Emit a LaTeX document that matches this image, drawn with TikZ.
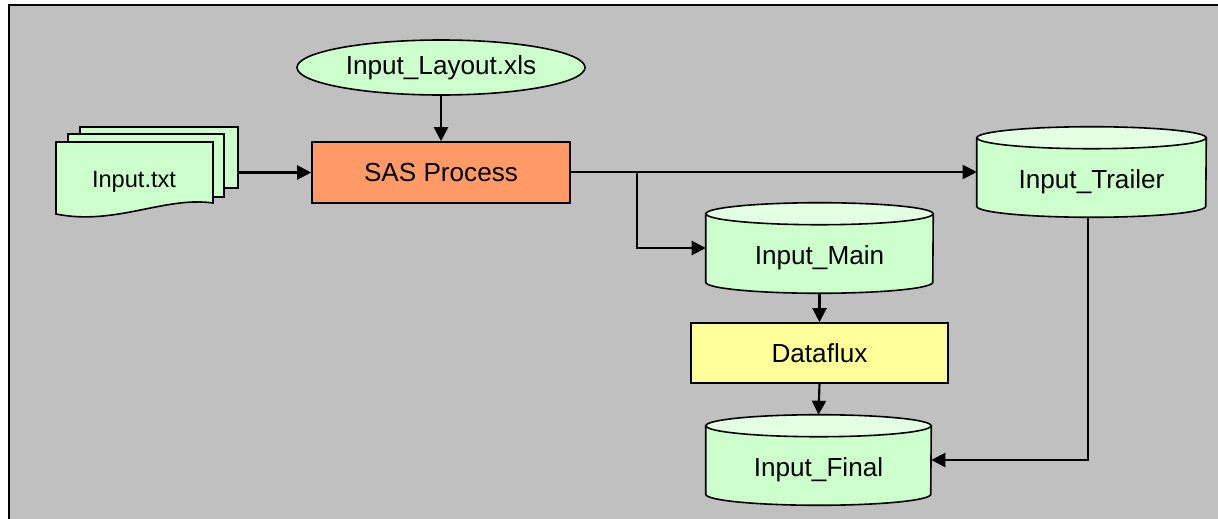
\documentclass[tikz,border=0pt]{standalone}
\usepackage{fontspec}
\setmainfont{Liberation Sans}
\usetikzlibrary{arrows.meta,shapes.geometric}
\definecolor{bggray}{HTML}{C0C0C0}
\definecolor{lgreen}{HTML}{CCFFCC}
\definecolor{lgreentop}{HTML}{E3FFE3}
\definecolor{sasorange}{HTML}{FF9966}
\definecolor{dfyellow}{HTML}{FFFF99}
\newcommand\drawcyl[2]{%
  \path[draw=black,line width=1.2pt,fill=lgreen]
    ([yshift=-8.25pt]#1.north west) -- ([yshift=8.25pt]#1.south west)
    arc[start angle=180,end angle=360,x radius=#2,y radius=8.25pt]
    -- ([yshift=-8.25pt]#1.north east) -- cycle;
  \path[draw=black,line width=1.2pt,fill=lgreentop]
    ([yshift=-8.25pt]#1.north) ellipse[x radius=#2,y radius=8.25pt];}
\tikzset{
  lbl/.style={font=\fontsize{19.6}{22}\selectfont,inner sep=0pt},
  boxnode/.style={draw=black,line width=1.2pt,inner sep=0pt,font=\fontsize{19.6}{22}\selectfont},
  cylbox/.style={inner sep=0pt,minimum height=67.5pt},
  docbox/.style={draw=black,line width=1.2pt,fill=lgreen,inner sep=0pt},
  conn/.style={line width=1.6pt,-{Triangle[length=10.5pt,width=10.5pt]}},
  plain/.style={line width=1.6pt}
}
\begin{document}
\begin{tikzpicture}[x=0.75pt,y=0.75pt]
\useasboundingbox (0,0) rectangle (1218,-518);
\clip (0,0) rectangle (1218,-518);
\fill[white] (0,0) rectangle (1218,-518);
\draw[line width=1.5pt,fill=bggray] (9,-5) rectangle (1240,-540);

% Input.txt multi-document
\node[docbox,minimum width=118.5pt,minimum height=45.75pt] (back) at (159,-157.5) {};
\node[docbox,minimum width=117pt,minimum height=47.25pt] (mid) at (146,-165.5) {};
\path[draw=black,line width=1.2pt,fill=lgreen]
  (56,-142) -- (213,-142) -- (213,-203)
  .. controls (165,-196) and (115,-226) .. (56,-214) -- cycle;
\node[lbl,font=\fontsize{17.7}{20}\selectfont] (txt) at (134,-181.5) {Input.txt};

% Input_Layout.xls
\node[ellipse,boxnode,fill=lgreen,minimum width=216pt,minimum height=41.25pt] (layout) at (441,-67.5) {Input\_Layout.xls};

% SAS Process
\node[boxnode,fill=sasorange,minimum width=193.5pt,minimum height=45.75pt] (sas) at (441,-172.5) {SAS Process};

% Dataflux
\node[boxnode,fill=dfyellow,minimum width=192.75pt,minimum height=45pt] (df) at (819.5,-353) {Dataflux};

% Cylinders
\node[cylbox,minimum width=171.75pt] (trailer) at (1091.5,-172) {};
\drawcyl{trailer}{85.875pt}
\node[lbl] (trailerT) at ([yshift=-7.5pt]trailer.center) {Input\_Trailer};

\node[cylbox,minimum width=170.25pt] (main) at (819.5,-248) {};
\drawcyl{main}{85.125pt}
\node[lbl] (mainT) at ([yshift=-7pt]main.center) {Input\_Main};

\node[cylbox,minimum width=168.75pt] (final) at (818.5,-460) {};
\drawcyl{final}{84.375pt}
\node[lbl] (finalT) at ([yshift=-7pt]final.center) {Input\_Final};

% Connectors
\coordinate (br) at (637,-172);
\draw[conn] (back.east |- sas.west) -- (sas.west);
\draw[conn] (layout.south) -- (sas.north);
\draw[conn] (sas.east |- trailer.west) -- (trailer.west);
\draw[conn] (br) |- (main.west);
\draw[conn] (main.south) -- (df.north);
\draw[conn] (df.south) -- (final.north);
\draw[conn] ([xshift=-2.6pt]trailer.south) |- (final.east);
\end{tikzpicture}
\end{document}
